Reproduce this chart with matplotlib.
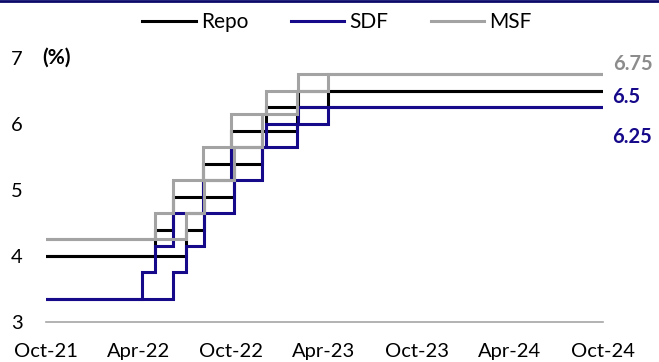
import matplotlib.pyplot as plt
from matplotlib.lines import Line2D
import pandas as pd

plt.rcParams['font.family'] = ['Lato', 'DejaVu Sans']

# policy rate changes (%)
repo_dates = ["2021-10-01", "2022-05-04", "2022-06-08", "2022-08-05", "2022-09-30", "2022-12-07", "2023-02-08", "2024-10-01"]
repo_vals = [4.00, 4.40, 4.90, 5.40, 5.90, 6.25, 6.50, 6.50]

sdf_dates = ["2021-10-01", "2022-04-08", "2022-05-04", "2022-06-08", "2022-08-05", "2022-09-30", "2022-12-07", "2023-02-08", "2024-10-01"]
sdf_vals = [3.35, 3.75, 4.15, 4.65, 5.15, 5.65, 6.00, 6.25, 6.25]

msf_dates = ["2021-10-01", "2022-05-04", "2022-06-08", "2022-08-05", "2022-09-30", "2022-12-07", "2023-02-08", "2024-10-01"]
msf_vals = [4.25, 4.65, 5.15, 5.65, 6.15, 6.50, 6.75, 6.75]

xtick_labels = ["Oct-21", "Apr-22", "Oct-22", "Apr-23", "Oct-23", "Apr-24", "Oct-24"]
xtick_dates = ["2021-10-01", "2022-04-01", "2022-10-01", "2023-04-01", "2023-10-01", "2024-04-01", "2024-10-01"]

end_labels = ["6.75", "6.5", "6.25"]

navy = "#16098a"
grey = "#a3a3a3"

fig = plt.figure(figsize=(6.59, 3.62), dpi=100)
ax = fig.add_axes([46/659, 0.1105, (603-46)/659, 0.7293])

series = [("Repo", repo_dates, repo_vals, "black"),
          ("SDF", sdf_dates, sdf_vals, navy),
          ("MSF", msf_dates, msf_vals, grey)]

for name, d, v, c in series:
    d = pd.to_datetime(d)
    ax.step(d, v, where="post", color=c, lw=2.2, label=name, solid_joinstyle="miter")
    # the source chart shows each series a second time, two months later
    d2 = d + pd.DateOffset(months=2)
    d2 = d2.where(d2 < pd.Timestamp("2024-10-01"), pd.Timestamp("2024-10-01"))
    d2 = d2.insert(0, d[0])
    v2 = [v[0]] + list(v)
    ax.step(d2, v2, where="post", color=c, lw=2.2, solid_joinstyle="miter")

ax.set_xlim(pd.Timestamp("2021-10-01"), pd.Timestamp("2024-10-01"))
ax.set_ylim(3, 7)
ax.set_yticks([3, 4, 5, 6, 7])
ax.set_xticks(pd.to_datetime(xtick_dates))
ax.set_xticklabels(xtick_labels)
ax.tick_params(axis="both", length=0, labelsize=14.5)
ax.tick_params(axis="y", pad=17)
ax.tick_params(axis="x", pad=15)
for s in ["top", "right", "left"]:
    ax.spines[s].set_visible(False)
ax.spines["bottom"].set_color("#a6a6a6")
ax.spines["bottom"].set_linewidth(1.2)

fig.text(42/659, 1 - 58/362, "(%)", fontsize=15, fontweight="bold", va="center", ha="left")

# end labels
fig.text(613/659, 1 - 64/362, end_labels[0], color="#8c8c8c", fontweight="bold", fontsize=14.5, va="center")
fig.text(612/659, 1 - 97/362, end_labels[1], color=navy, fontweight="bold", fontsize=14.5, va="center")
fig.text(612/659, 1 - 137/362, end_labels[2], color=navy, fontweight="bold", fontsize=14.5, va="center")

fig.legend(*ax.get_legend_handles_labels(), loc="center", bbox_to_anchor=(337/659, 1 - 22/362),
           ncol=3, frameon=False, fontsize=15, handlelength=2.55, handletextpad=0.25, columnspacing=2.05)

fig.add_artist(Line2D([0, 1], [0.998, 0.998], transform=fig.transFigure, color="#0b0a6b", lw=2))

fig.savefig("out.png", dpi=100)
